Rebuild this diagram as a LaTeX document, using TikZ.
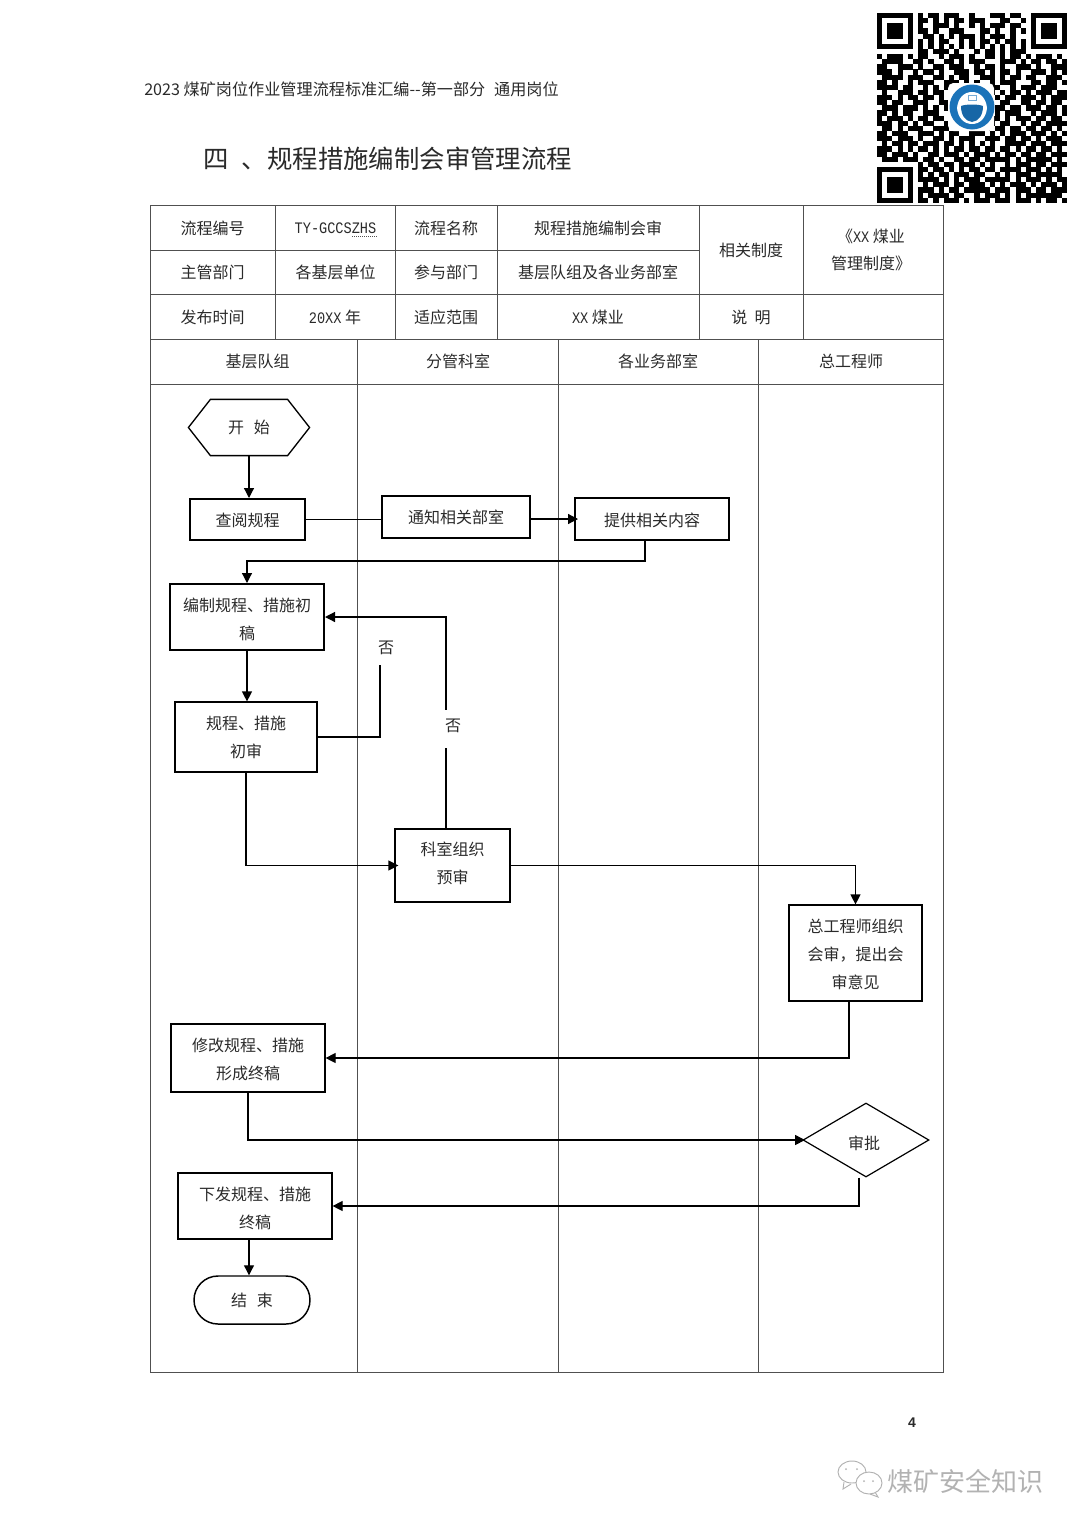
\documentclass[tikz,border=0pt]{standalone}
\usepackage{fontspec}
\setmainfont{Noto Sans CJK SC}
\newfontfamily\lat[FakeStretch=0.85]{Liberation Mono}
\newfontfamily\numfont{Liberation Sans}
\usetikzlibrary{arrows.meta,shapes.geometric,shapes.misc}
\definecolor{ink}{HTML}{2A2A2A}
\definecolor{rule}{HTML}{505050}
\definecolor{helmetblue}{HTML}{1B73B9}
\definecolor{maskblue}{HTML}{1766A6}
\definecolor{wm}{HTML}{B2B2B2}
\newcount\qrx
\newcount\qry
\def\qrscan#1{\ifx#1\relax\else\if#1x\fill[black] ({877+5.13*\the\qrx},{13+5.13*\the\qry}) rectangle ({877+5.13*\the\qrx+5.2},{13+5.13*\the\qry+5.2});\fi\advance\qrx by 1 \expandafter\qrscan\fi}
\def\qrrow#1{\qrx=0 \qrscan#1\relax\advance\qry by 1 }
\newcommand\txtdn[1]{\rule{0pt}{#1pt}}
\newcommand\txtup[1]{\rule[-#1pt]{0pt}{#1pt}}
\newcommand\latin[1]{{\lat\fontsize{12}{14}\selectfont #1}}
\tikzset{
 cell/.style={font=\fontsize{12}{14}\selectfont,text=ink,inner sep=0pt},
 thinbox/.style={draw=black,line width=0.9pt,fill=white,align=center,inner sep=0pt,text=ink,font=\fontsize{12}{21}\selectfont},
 thickbox/.style={thinbox,line width=1.5pt},
 wh/.style 2 args={minimum width=#1*0.75pt,minimum height=#2*0.75pt},
 conn/.style={line width=0.9pt,draw=black},
 arr/.style={conn,-{Triangle[length=7.5pt,width=7.5pt]}},
 grid/.style={line width=0.75pt,draw=rule},
}
\begin{document}
\begin{tikzpicture}[x=0.75pt,y=-0.75pt]
\useasboundingbox (0,0) rectangle (1080,1528);
\fill[white] (0,0) rectangle (1080,1528);
% header
\node[anchor=west,inner sep=0pt,text=ink,font=\fontsize{12.1}{14}\selectfont] (hdr) at (144,89) {2023 煤矿岗位作业管理流程标准汇编{-}{-}第一部分\hspace{0.55em}通用岗位};
\node[anchor=west,inner sep=0pt,text=ink,font=\fontsize{19.05}{24}\selectfont] (ttl) at (203,159) {四\hspace{0.52em}、规程措施编制会审管理流程};
% QR code
\qry=0
\qrrow{xxxxxxx.x. xx.xxx..x. ..xxx.xx.. xxxxxxx}
\qrrow{x.....x.xx .x.x.xx.xx x...xx..x. x.....x}
\qrrow{x.xxx.x.x. .xxx.x..x. x.xxx.xx.. x.xxx.x}
\qrrow{x.xxx.x.xx .x..xxx... xx.x..x.x. x.xxx.x}
\qrrow{x.xxx.x..x x.x.x.xxx. x.xxx.x... x.xxx.x}
\qrrow{x.....x.x. x.xx..x.x. xx.x.xx.x. x.....x}
\qrrow{xxxxxxx.x. x.x.x.x.x. x.x.x.x.x. xxxxxxx}
\qrrow{........xx .xxx.x...x .xx.x.xxx. .......}
\qrrow{x.xxx.x.xx ..x.xxx.x. .xx.x.xx.x .xxx.x.}
\qrrow{.xxxx..xx. x..xx.x.xx x...xxx.x. xx.xx.x}
\qrrow{xx..xxx.x. .xx.xxx..x .xx.x..xxx .x..xxx}
\qrrow{xxx.x..x.x x.x..xxx.x x.x.xx.x.. xxx.x.x}
\qrrow{.xxxx.xxx. .xx.x.xx.. xxx.x.xx.x x..xxx.}
\qrrow{xx.x..x.xx x..xxx.x.x ..x.xxx... xx.xx.x}
\qrrow{xxxx.xx..x .x.xx..xx. x.xx..x.xx x.xxx..}
\qrrow{.x..xxx.xx .xx.x.x... ..x.x.xx.x .xxx.xx}
\qrrow{xxx.x.xx.x x.x.x..... ...x.xx.xx x.x.xxx}
\qrrow{xx.xx..xxx ..xxx..... ....xx..xx .xx.xx.}
\qrrow{.xxx.xxx.x .x.xx..... ...xx.xx.x xx.xx.x}
\qrrow{xx.x.xx..x xx..x..... ...x.xxx.. x.xxx.x}
\qrrow{x.xxx.x.xx .xx.xx.... ..xx.x.xxx .xx.xx.}
\qrrow{xxx.xx.x.x x..xx.xx.x xxx.xx..x. xx.xxxx}
\qrrow{.xx.x.xxx. .xxx.x.xx. .x.xx.xx.x x.xx.x.}
\qrrow{xx.xxx..xx x.x.xx..xx x.x.x.xxx. xxx.x.x}
\qrrow{xxx.xxx.x. .xx.x.xxx. .xxx.xx.xx .x.xxx.}
\qrrow{.x.xx.xx.x xx.xx.x.x. x.x..xxxx. xxx.xxx}
\qrrow{xxx.x.x.xx .x.x.xx.xx .xx.xx.x.x x.xx.x.}
\qrrow{xx.xxx.x.. xx.xxx.x.x xx.x.xx.xx .xx.xxx}
\qrrow{.xxx.xxx.x x.x..xx.xx .xxxxx.x.x xxxx.x.}
\qrrow{........x. xx.xx.xxx. x.x..x.xxx .xx.xxx}
\qrrow{xxxxxxx.xx .xx.x.x.xx .xx.xxxx.x xx.x.x.}
\qrrow{x.....x.x. x.xx.xxx.x x..x.x.xxx .xxxxx.}
\qrrow{x.xxx.x.xx xx.x.x.xxx .xxxxx.x.x xx.x.xx}
\qrrow{x.xxx.x..x .xxx.xx.xx x.x.x.xxx. x.xxx.x}
\qrrow{x.xxx.x.xx x.x.xx.xxx xx.xxx.xxx .xx.xxx}
\qrrow{x.....x.x. xxxx.xx..x .xxx.x.x.x xxxxxx.}
\qrrow{xxxxxxx.xx .x.xxx.x.x xx.xxx.xxx .x.xx.x}
% QR logo
\fill[white,rounded corners=4pt] (948,83) rectangle (994,131);
\fill[helmetblue] (972,107) circle[radius=22.5];
\fill[white] (957,108) .. controls (958,98) and (964,92) .. (972,92) .. controls (980,92) and (986,98) .. (987,108) .. controls (986,118) and (980,124) .. (972,124) .. controls (964,124) and (958,118) .. (957,108) -- cycle;
\fill[maskblue] (961,106) .. controls (966,104) and (978,104) .. (983,106) .. controls (983,115) and (979,121) .. (972,122) .. controls (965,121) and (961,115) .. (961,106) -- cycle;
\draw[helmetblue!60,line width=0.5pt] (968,95) rectangle (976,100);
% table frame
\draw[grid] (150,205) rectangle (943,1372);
\foreach \yy/\xa/\xb in {250/150/699,294/150/943,339/150/943,384/150/943}
 \draw[grid] (\xa,\yy) -- (\xb,\yy);
\foreach \xx in {275,395,497,699,803} \draw[grid] (\xx,205) -- (\xx,339);
\foreach \xx in {357,558,758} \draw[grid] (\xx,339) -- (\xx,1372);
% table text
\node[cell] (c11) at (212.5,228) {流程编号};
\node[cell] (c12) at (335.5,228) {\latin{TY-GCCSZHS}};
\draw[rule,line width=0.5pt,densely dotted] (352,236.5) -- (377,236.5);
\node[cell] (c13) at (446,228) {流程名称};
\node[cell] (c14) at (598,228) {规程措施编制会审};
\node[cell] (c21) at (212.5,272) {主管部门};
\node[cell] (c22) at (335.5,272) {各基层单位};
\node[cell] (c23) at (446,272) {参与部门};
\node[cell] (c24) at (598,272) {基层队组及各业务部室};
\node[cell] (c15) at (751,250) {相关制度};
\node[cell,align=center,font=\fontsize{12}{20.5}\selectfont] (c16) at (871,250) {《\latin{XX} 煤业\\管理制度》};
\node[cell] (c31) at (212.5,317) {发布时间};
\node[cell] (c32) at (335,317) {\latin{20XX} 年};
\node[cell] (c33) at (446,317) {适应范围};
\node[cell] (c34) at (598,317) {\latin{XX} 煤业};
\node[cell] (c35) at (751,317) {说\ \ 明};
\node[cell] (h1) at (257.5,361) {基层队组};
\node[cell] (h2) at (458,361) {分管科室};
\node[cell] (h3) at (658,361) {各业务部室};
\node[cell] (h4) at (851,361) {总工程师};
% flow nodes
\node[thinbox,draw=none,fill=none,wh={120}{55}] (start) at (249,427.5) {开\hspace{0.6em}始};
\draw[line width=1pt,draw=black] (start.west) -- ([xshift=16.5pt]start.north west) -- ([xshift=-16.5pt]start.north east) -- (start.east) -- ([xshift=-16.5pt]start.south east) -- ([xshift=16.5pt]start.south west) -- cycle;
\node[thickbox,wh={115}{41}] (view) at (247.5,519.5) {\txtdn{11.6}查阅规程};
\node[thickbox,wh={148}{42}] (notify) at (456,517) {通知相关部室};
\node[thickbox,wh={154}{42}] (provide) at (652,519) {\txtdn{11.6}提供相关内容};
\node[thickbox,wh={154}{66}] (draft) at (247,617) {\txtdn{13.6}编制规程、措施初\\稿};
\node[thinbox,wh={142}{70}] (firstrev) at (246,737) {规程、措施\\初审};
\node[thinbox,wh={115}{73}] (pre) at (452.5,865.5) {科室组织\\预审\txtup{4.5}};
\node[thinbox,wh={133}{96}] (chief) at (855.5,953) {\txtdn{12.1}总工程师组织\\会审，提出会\\审意见};
\node[thinbox,wh={154}{68}] (final) at (248,1058) {\txtdn{12.1}修改规程、措施\\形成终稿};
\node[thinbox,diamond,aspect=1.7,inner sep=0pt,wh={126}{74}] (approve) at (866,1140) {\txtdn{15.1}审批\hspace{3pt}\mbox{}};
\node[thinbox,wh={154}{66}] (issue) at (255,1206) {\txtdn{13.6}下发规程、措施\\终稿};
\node[thinbox,rounded rectangle,line width=1.1pt,wh={116}{48}] (stop) at (252,1300) {结\hspace{0.6em}束};
% connectors
\draw[arr] (start.south) -- (view.north -| start.south);
\draw[conn] (view.east) -- (notify.west |- view.east);
\draw[arr] (notify.east |- provide.west) -- ([xshift=3pt]provide.west);
\draw[arr] ([xshift=-5.25pt]provide.south) |- (484,561) -| (draft.north);
\draw[arr] (draft.south) -- (firstrev.north -| draft.south);
\node[cell,minimum height=25.5pt] (no1) at (386,648) {否};
\draw[conn] (firstrev.east) -- ([xshift=-4.5pt]no1.south |- firstrev.east) -- ([xshift=-4.5pt]no1.south);
\draw[arr] ([xshift=-4.875pt]pre.north) |- (draft.east);
\node[cell,fill=white,minimum height=29pt] (no2) at (453,729) {\raisebox{5pt}{否}};
\draw[arr] (firstrev.south) |- ([xshift=3pt]pre.west);
\draw[arr] (pre.east) -| (chief.north);
\draw[arr] ([xshift=-4.875pt]chief.south) |- (final.east);
\draw[arr] (final.south) |- ([xshift=2pt]approve.west);
\draw[arr] ([xshift=-5.25pt]approve.south) |- (issue.east);
\draw[arr] ([xshift=-4.5pt]issue.south) -- ([xshift=-2.25pt]stop.north);
% footer
\node[inner sep=0pt,text=ink,font=\numfont\bfseries\fontsize{10.5}{12}\selectfont] (pg) at (912,1423) {4};
\node[anchor=west,inner sep=0pt,text=wm,font=\fontsize{19.5}{24}\selectfont] (wmt) at (887,1481) {煤矿安全知识};
\draw[wm,line width=0.7pt] (844,1482) -- (843,1489) -- (851,1484);
\draw[wm,line width=0.7pt,fill=white] (852,1472) ellipse[x radius=14,y radius=11];
\draw[wm,line width=0.7pt] (875,1492) -- (878,1497) -- (870,1494);
\draw[wm,line width=0.7pt,fill=white] (869,1483) ellipse[x radius=13,y radius=11];
\fill[wm] (846,1469) circle[radius=1] (857,1469) circle[radius=1] (864,1481) circle[radius=1] (873,1481) circle[radius=1];
\end{tikzpicture}
\end{document}
